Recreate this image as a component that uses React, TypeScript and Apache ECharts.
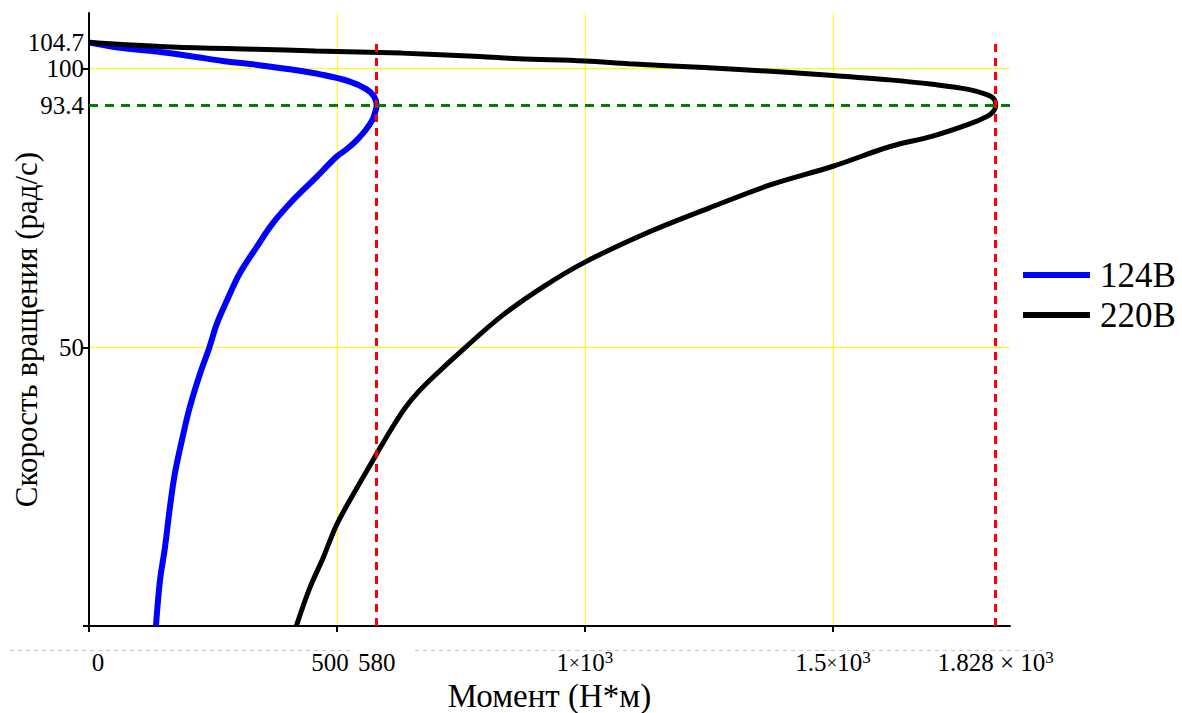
import React, { useEffect, useRef } from "react";
import * as echarts from "echarts";

// Torque (Н*м) / speed (рад/с) pairs
const torque124 = [0, 68, 137, 203, 270, 338, 405, 471, 526, 560, 575, 580, 577, 572, 558, 540, 520, 499, 459, 411, 370, 338, 304, 278, 258, 242, 224, 203, 187, 173, 163, 153, 143, 135];
const speed124 = [104.7, 103.7, 103.1, 102.3, 101.4, 100.7, 99.9, 98.9, 97.7, 96.3, 95.0, 93.4, 92.2, 90.9, 89.0, 87.2, 85.6, 84.2, 80.6, 76.4, 72.2, 68.0, 63.3, 58.4, 54.3, 49.8, 45.3, 39.2, 33.2, 27.3, 21.2, 14.0, 8.1, 0];

const torque220 = [0, 168, 336, 457, 630, 787, 866, 1000, 1089, 1240, 1399, 1500, 1614, 1701, 1773, 1812, 1826, 1828, 1824, 1812, 1773, 1701, 1614, 1500, 1375, 1250, 1121, 1000, 918, 833, 759, 693, 664, 638, 610, 582, 532, 499, 472, 445, 418];
const speed220 = [104.7, 103.9, 103.5, 103.2, 102.8, 102.2, 101.8, 101.4, 100.9, 100.2, 99.4, 98.8, 98.0, 97.2, 96.3, 95.3, 94.4, 93.4, 92.4, 91.5, 90.0, 87.9, 86.0, 82.5, 79.2, 75.0, 70.4, 65.3, 61.0, 55.7, 50.0, 44.6, 42.0, 39.2, 35.4, 31.2, 23.5, 18.1, 12.2, 6.8, 0];

const seriesNames = ["124В", "220В"];
const xTickValues = [0, 500, 580, 1000, 1500, 1828];
const xGridValues = [0, 500, 1000, 1500];
const yTickValues = [50, 93.4, 100, 104.7];
const yGridValues = [0, 50, 100];
const criticalTorques = [580, 1828];
const criticalSpeed = 93.4;
const idleSpeed = 104.7;
const xMax = 1857;
const yMax = 110;

const FONT = "'Liberation Serif', 'Times New Roman', serif";

function xLabel(v: number): string {
  if (v === 0) return "{z|0}";
  if (v === 500) return "{l|500}";
  if (v === 580) return "{n|580}";
  if (v === 1000) return "{n|1}{x|×}{n|10}{s|3}";
  if (v === 1500) return "{n|1.5}{x|×}{n|10}{s|3}";
  if (v === 1828) return "{n|1.828 × 10}{s|3}";
  return String(v);
}

export default function App() {
  const ref = useRef<HTMLDivElement>(null);
  useEffect(() => {
    if (!ref.current) return;
    const chart = echarts.init(ref.current, undefined, { renderer: "svg" });
    const pairs = (xs: number[], ys: number[]) => xs.map((x, i) => [x, ys[i]]);
    chart.setOption({
      animation: false,
      backgroundColor: "#ffffff",
      textStyle: { fontFamily: FONT },
      grid: { left: 89, top: 13, width: 921, height: 613, containLabel: false, outerBoundsMode: "none" },
      legend: {
        orient: "vertical",
        left: 1018,
        top: 250,
        icon: "rect",
        itemWidth: 67,
        itemHeight: 6,
        itemGap: 0,
        data: seriesNames,
        textStyle: { fontFamily: FONT, fontSize: 35, color: "#000", lineHeight: 40, padding: [0, 0, 0, 5] },
      },
      xAxis: {
        type: "value",
        min: 0,
        max: xMax,
        name: "Момент (Н*м)",
        nameLocation: "middle",
        nameGap: 53,
        nameMoveOverlap: false,
        nameTextStyle: { fontFamily: FONT, fontSize: 33, color: "#000" },
        axisLine: { show: true, onZero: false, lineStyle: { color: "#000", width: 2 } },
        axisTick: { show: true, length: 6, customValues: xGridValues, lineStyle: { color: "#000", width: 2 } },
        splitLine: { show: true, lineStyle: { color: "#ffff00", width: 1 } },
        axisLabel: {
          customValues: xTickValues,
          formatter: (v: number) => xLabel(v),
          margin: 23,
          color: "#000",
          fontFamily: FONT,
          rich: {
            n: { fontFamily: FONT, fontSize: 25, color: "#000", lineHeight: 26 },
            z: { fontFamily: FONT, fontSize: 25, color: "#000", padding: [0, 0, 0, 18], lineHeight: 26 },
            l: { fontFamily: FONT, fontSize: 25, color: "#000", padding: [0, 14, 0, 0], lineHeight: 26 },
            x: { fontFamily: FONT, fontSize: 19, color: "#000", lineHeight: 26 },
            s: { fontFamily: FONT, fontSize: 17, color: "#000", verticalAlign: "top", lineHeight: 14 },
          },
        },
      },
      yAxis: {
        type: "value",
        min: 0,
        max: yMax,
        name: "Скорость вращения (рад/с)",
        nameLocation: "middle",
        nameGap: 47,
        nameMoveOverlap: false,
        nameRotate: 90,
        nameTextStyle: { fontFamily: FONT, fontSize: 31, color: "#000", padding: [0, 20, 0, 0] },
        axisLine: { show: true, onZero: false, lineStyle: { color: "#000", width: 2 } },
        axisTick: { show: true, length: 6, customValues: yGridValues, lineStyle: { color: "#000", width: 2 } },
        splitLine: { show: true, lineStyle: { color: "#ffff00", width: 1 } },
        axisLabel: {
          customValues: yTickValues,
          margin: 5,
          color: "#000",
          fontFamily: FONT,
          fontSize: 25,
        },
      },
      graphic: [
        { type: "line", silent: true, shape: { x1: 10, y1: 650.5, x2: 350, y2: 650.5 }, style: { stroke: "#c8c8c8", lineWidth: 1, lineDash: [4, 4] } },
        { type: "line", silent: true, shape: { x1: 415, y1: 650.5, x2: 1045, y2: 650.5 }, style: { stroke: "#c8c8c8", lineWidth: 1, lineDash: [4, 4] } },
      ],
      series: [
        {
          name: seriesNames[0],
          type: "line",
          data: pairs(torque124, speed124),
          showSymbol: false,
          smooth: 0.35,
          color: "#0000ff",
          lineStyle: { color: "#0000ff", width: 6 },
          z: 3,
        },
        {
          name: seriesNames[1],
          type: "line",
          data: pairs(torque220, speed220),
          showSymbol: false,
          smooth: 0.35,
          color: "#000000",
          lineStyle: { color: "#000000", width: 5 },
          z: 3,
          markLine: {
            silent: true,
            symbol: "none",
            label: { show: false },
            data: [
              [
                { coord: [criticalTorques[0], 0], lineStyle: { color: "#ff0000", width: 3, type: [8, 6] } },
                { coord: [criticalTorques[0], idleSpeed] },
              ],
              [
                { coord: [criticalTorques[1], 0], lineStyle: { color: "#ff0000", width: 3, type: [8, 6] } },
                { coord: [criticalTorques[1], idleSpeed] },
              ],
              [
                { coord: [0, criticalSpeed], lineStyle: { color: "#008000", width: 3, type: [9, 7] } },
                { coord: [xMax, criticalSpeed] },
              ],
            ],
          },
        },
      ],
    });
    return () => chart.dispose();
  }, []);
  return <div ref={ref} style={{ position: "fixed", left: 0, top: 0, width: 1182, height: 713 }} />;
}
